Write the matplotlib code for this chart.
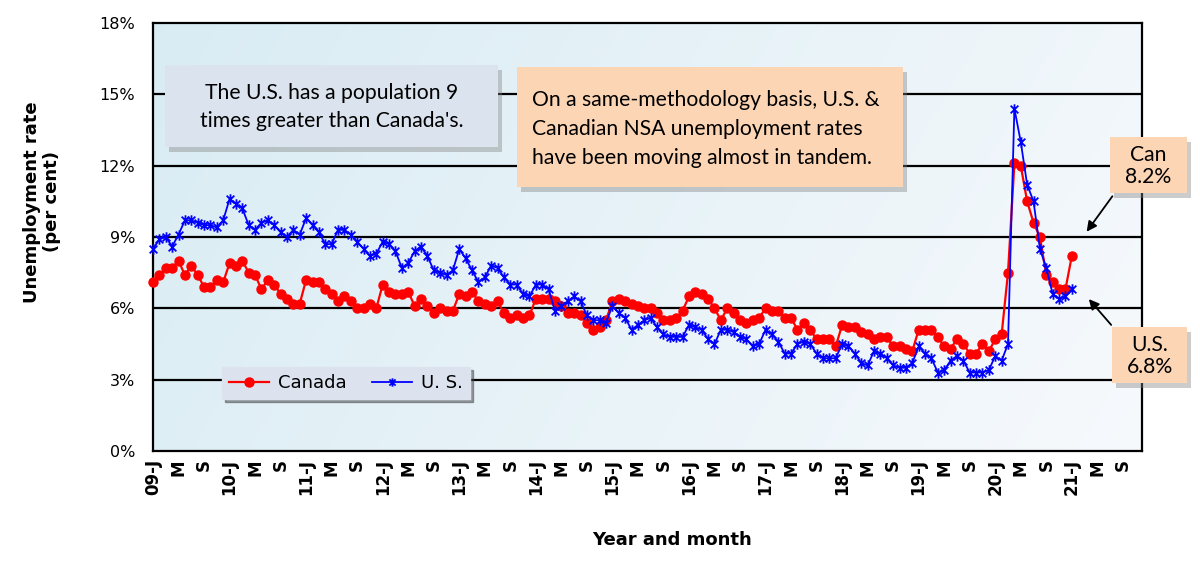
import numpy as np
import matplotlib.pyplot as plt
from matplotlib.patches import Rectangle, FancyArrowPatch
from matplotlib.lines import Line2D
from matplotlib.path import Path
from matplotlib.transforms import Affine2D

W, H = 1200, 564

# monthly NSA unemployment rates, Jan 2009 .. Jan 2021 (%)
canada = [7.1, 7.4, 7.7, 7.7, 8.0, 7.4, 7.8, 7.4, 6.9, 6.9, 7.2, 7.1,
          7.9, 7.8, 8.0, 7.5, 7.4, 6.8, 7.2, 7.0, 6.6, 6.4, 6.2, 6.2,
          7.2, 7.1, 7.1, 6.8, 6.6, 6.3, 6.5, 6.3, 6.0, 6.0, 6.2, 6.0,
          7.0, 6.7, 6.6, 6.6, 6.7, 6.1, 6.4, 6.1, 5.8, 6.0, 5.9, 5.9,
          6.6, 6.5, 6.7, 6.3, 6.2, 6.1, 6.3, 5.8, 5.6, 5.7, 5.6, 5.7,
          6.4, 6.4, 6.4, 6.3, 6.1, 5.8, 5.8, 5.7, 5.4, 5.1, 5.2, 5.5,
          6.3, 6.4, 6.3, 6.2, 6.1, 6.0, 6.0, 5.8, 5.5, 5.5, 5.6, 5.9,
          6.5, 6.7, 6.6, 6.4, 6.0, 5.5, 6.0, 5.8, 5.5, 5.4, 5.5, 5.6,
          6.0, 5.9, 5.9, 5.6, 5.6, 5.1, 5.4, 5.1, 4.7, 4.7, 4.7, 4.4,
          5.3, 5.2, 5.2, 5.0, 4.9, 4.7, 4.8, 4.8, 4.4, 4.4, 4.3, 4.2,
          5.1, 5.1, 5.1, 4.8, 4.4, 4.3, 4.7, 4.5, 4.1, 4.1, 4.5, 4.2,
          4.7, 4.9, 7.5, 12.1, 12.0, 10.5, 9.6, 9.0, 7.4, 7.1, 6.8, 6.8,
          8.2]
us = [8.5, 8.9, 9.0, 8.6, 9.1, 9.7, 9.7, 9.6, 9.5, 9.5, 9.4, 9.7,
      10.6, 10.4, 10.2, 9.5, 9.3, 9.6, 9.7, 9.5, 9.2, 9.0, 9.3, 9.1,
      9.8, 9.5, 9.2, 8.7, 8.7, 9.3, 9.3, 9.1, 8.8, 8.5, 8.2, 8.3,
      8.8, 8.7, 8.4, 7.7, 7.9, 8.4, 8.6, 8.2, 7.6, 7.5, 7.4, 7.6,
      8.5, 8.1, 7.6, 7.1, 7.3, 7.8, 7.7, 7.3, 7.0, 7.0, 6.6, 6.5,
      7.0, 7.0, 6.8, 5.9, 6.1, 6.3, 6.5, 6.3, 5.7, 5.5, 5.5, 5.4,
      6.1, 5.8, 5.6, 5.1, 5.3, 5.5, 5.6, 5.2, 4.9, 4.8, 4.8, 4.8,
      5.3, 5.2, 5.1, 4.7, 4.5, 5.1, 5.1, 5.0, 4.8, 4.7, 4.4, 4.5,
      5.1, 4.9, 4.6, 4.1, 4.1, 4.5, 4.6, 4.5, 4.1, 3.9, 3.9, 3.9,
      4.5, 4.4, 4.1, 3.7, 3.6, 4.2, 4.1, 3.9, 3.6, 3.5, 3.5, 3.7,
      4.4, 4.1, 3.9, 3.3, 3.4, 3.8, 4.0, 3.8, 3.3, 3.3, 3.3, 3.4,
      4.0, 3.8, 4.5, 14.4, 13.0, 11.2, 10.5, 8.5, 7.7, 6.6, 6.4, 6.5,
      6.8]
years = list(range(9, 22))
tick_lab = []
for yy in years:
    tick_lab += ['%02d-J' % yy, 'M', 'S']
y_ticks = [0, 3, 6, 9, 12, 15, 18]

fig = plt.figure(figsize=(12, 5.64), dpi=100)
# pixel coords measured from the top-left corner of the picture
px = Affine2D().scale(1 / W, -1 / H).translate(0, 1) + fig.transFigure

ax = fig.add_axes([153 / W, 1 - 451 / H, (1142 - 153) / W, (451 - 23) / H])

# soft blue-to-white background
gx, gy = np.meshgrid(np.linspace(0, 1, 400), np.linspace(0, 1, 100))
t = np.clip(0.8 * gx + 0.2 * gy, 0, 1)[..., None]
c0 = np.array([0.85, 0.925, 0.955])
c1 = np.array([0.968, 0.978, 0.99])
ax.imshow(c0 + (c1 - c0) * t, extent=[0, 155, 0, 18], aspect='auto', zorder=0)

for v in y_ticks[1:-1]:
    ax.axhline(v, color='black', lw=1.6, zorder=1)

star = Path([(-1, -1), (1, 1), (-1, 1), (1, -1), (0, -1.35), (0, 1.35)],
            [Path.MOVETO, Path.LINETO] * 3)

x = np.arange(len(canada))
ax.plot(x, canada, color='#ff0000', lw=1.6, marker='o', ms=6.5, zorder=3, clip_on=False)
ax.plot(np.arange(len(us)), us, color='#0000ff', lw=1.3, marker=star, ms=7.5,
        mew=1.3, zorder=4, clip_on=False)

ax.set_xlim(0, 155)
ax.set_ylim(0, 18)
ax.set_xticks(np.arange(0, 4 * len(tick_lab), 4))
ax.set_xticklabels(tick_lab, rotation=90, fontweight='bold', fontsize=12)
ax.set_yticks(y_ticks)
ax.set_yticklabels(['%d%%' % v for v in y_ticks], fontsize=11.5)
ax.tick_params(axis='x', length=0, pad=6)
ax.tick_params(axis='y', length=0, pad=13)
for s in ax.spines.values():
    s.set_linewidth(1.6)

handles = [Line2D([], [], color='#ff0000', lw=1.6, marker='o', ms=6.5),
           Line2D([], [], color='#0000ff', lw=1.3, marker=star, ms=6, mew=1.3)]
ax.legend(handles, ['Canada', 'U. S.'], loc='center', bbox_to_anchor=(346, 383),
          bbox_transform=px, ncol=2, fancybox=False, shadow=True, framealpha=1,
          facecolor='#dce3ee', edgecolor='#dce3ee', fontsize=13,
          handlelength=2.2, columnspacing=1.4, borderpad=0.4, handletextpad=0.5)


def box(x0, y0, x1, y1, fc):
    fig.add_artist(Rectangle((x0 + 4, y0 + 5), x1 - x0, y1 - y0, transform=px,
                             fc='#808080', alpha=0.4, ec='none'))
    fig.add_artist(Rectangle((x0, y0), x1 - x0, y1 - y0, transform=px, fc=fc, ec='none'))


font = ['Lato', 'DejaVu Sans']
box(165, 65, 498, 147, '#dbe3ee')
fig.text(332, 107, "The U.S. has a population 9\ntimes greater than Canada's.", transform=px,
         ha='center', va='center', fontsize=15.2, family=font, linespacing=1.55)
box(517, 67, 903, 187, '#fcd5b5')
fig.text(532, 129, "On a same-methodology basis, U.S. &\nCanadian NSA unemployment rates\n"
         "have been moving almost in tandem.", transform=px, ha='left', va='center',
         fontsize=15.2, family=font, linespacing=1.55)
box(1110, 137, 1187, 193, '#fcd5b5')
fig.text(1148, 166, 'Can\n8.2%', transform=px, ha='center', va='center',
         fontsize=15.2, family=font, linespacing=1.1)
box(1112, 327, 1187, 383, '#fcd5b5')
fig.text(1150, 356, 'U.S.\n6.8%', transform=px, ha='center', va='center',
         fontsize=15.2, family=font, linespacing=1.1)

for p0, p1 in [((1114, 194), (1085, 234)), ((1113, 327), (1087, 297))]:
    fig.add_artist(FancyArrowPatch(p0, p1, transform=px, arrowstyle='-|>',
                                   mutation_scale=15, lw=1.3, color='black'))

fig.text(42, 202, 'Unemployment rate\n(per cent)', transform=px, rotation=90,
         ha='center', va='center', fontweight='bold', fontsize=13, linespacing=1.15)
fig.text(672, 540, 'Year and month', transform=px, ha='center', va='center',
         fontweight='bold', fontsize=13)

fig.savefig('out.png', dpi=100)
